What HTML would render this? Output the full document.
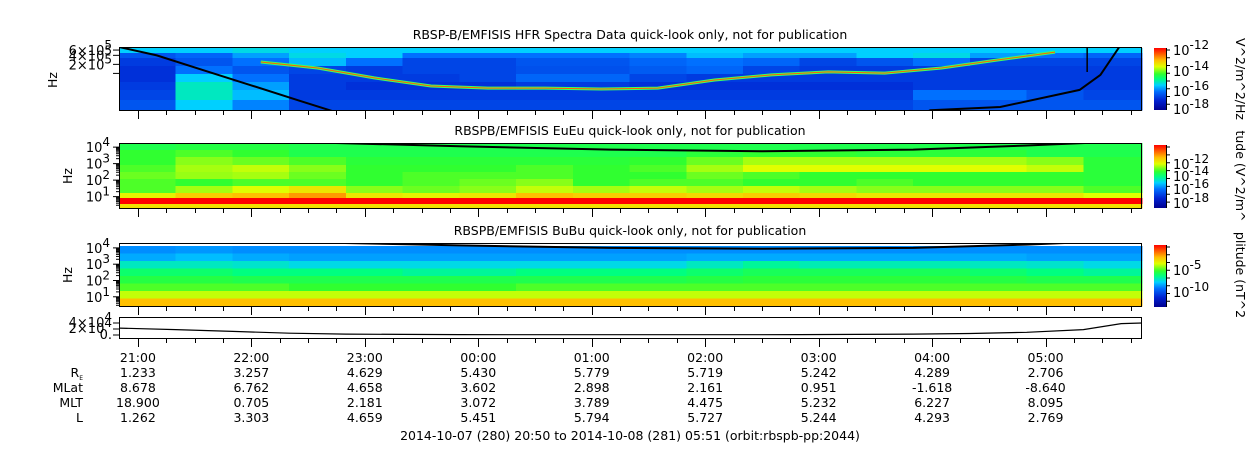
<!DOCTYPE html>
<html><head><meta charset="utf-8">
<style>
html,body{margin:0;padding:0;background:#fff;}
svg{display:block;font-family:"DejaVu Sans","Liberation Sans",sans-serif;}
</style></head>
<body>
<svg id="chart" width="1250" height="449" viewBox="0 0 1250 449" xmlns="http://www.w3.org/2000/svg">
<defs>
<linearGradient id="cbar" x1="0" y1="1" x2="0" y2="0">
<stop offset="0" stop-color="#000090"/><stop offset="0.15" stop-color="#0020d0"/>
<stop offset="0.3" stop-color="#0070ff"/><stop offset="0.4" stop-color="#00d0ff"/>
<stop offset="0.5" stop-color="#00ff80"/><stop offset="0.58" stop-color="#30ff30"/>
<stop offset="0.7" stop-color="#e0ff00"/><stop offset="0.8" stop-color="#ffc000"/>
<stop offset="0.9" stop-color="#ff6000"/><stop offset="1" stop-color="#ff0000"/>
</linearGradient>
<clipPath id="c1"><rect x="119" y="47" width="1023" height="63"/></clipPath>
<clipPath id="c2"><rect x="119" y="143" width="1023" height="65"/></clipPath>
<clipPath id="c3"><rect x="119" y="243" width="1023" height="63"/></clipPath>
<clipPath id="c4"><rect x="119" y="317" width="1023" height="21"/></clipPath>
</defs>
<g id="layer"></g>
<g font-size="12.5" fill="#000">
<text x="630" y="39" text-anchor="middle">RBSP-B/EMFISIS  HFR Spectra Data quick-look only, not for publication</text>
<text x="630" y="135" text-anchor="middle">RBSPB/EMFISIS  EuEu quick-look only, not for publication</text>
<text x="630" y="235" text-anchor="middle">RBSPB/EMFISIS  BuBu quick-look only, not for publication</text>
<text x="630" y="440" text-anchor="middle">2014-10-07 (280) 20:50 to 2014-10-08 (281) 05:51 (orbit:rbspb-pp:2044)</text>
<text transform="translate(57,80) rotate(-90)" text-anchor="middle">Hz</text>
<text transform="translate(72,176) rotate(-90)" text-anchor="middle">Hz</text>
<text transform="translate(72,275) rotate(-90)" text-anchor="middle">Hz</text>
<text transform="translate(1236,79) rotate(90)" text-anchor="middle">V^2/m^2/Hz</text>
<text transform="translate(1236,176) rotate(90)" text-anchor="middle">tude (V^2/m^</text>
<text transform="translate(1236,275) rotate(90)" text-anchor="middle">plitude (nT^2</text>
</g>
</svg>
<script>
// ---- data ----
const binMinutes = 30;
const hfrGrid = [
 [.4,.4,.42,.4,.4,.4,.4,.4,.4,.4,.4,.4,.4,.4,.4,.4,.4,.4],
 [.25,.28,.35,.42,.4,.3,.3,.3,.3,.32,.38,.35,.35,.4,.42,.35,.3,.28],
 [.2,.25,.3,.38,.3,.22,.22,.25,.25,.28,.3,.28,.22,.25,.3,.22,.22,.22],
 [.18,.3,.25,.22,.2,.22,.22,.24,.24,.26,.28,.22,.2,.2,.2,.2,.2,.2],
 [.18,.4,.3,.2,.2,.2,.22,.28,.28,.22,.2,.2,.2,.2,.2,.2,.2,.2],
 [.2,.45,.35,.2,.18,.18,.18,.2,.2,.18,.18,.18,.18,.18,.2,.2,.2,.2],
 [.22,.45,.38,.2,.2,.2,.2,.2,.2,.2,.2,.2,.2,.2,.3,.3,.25,.22],
 [.25,.4,.32,.22,.22,.22,.22,.22,.22,.22,.22,.22,.22,.22,.25,.25,.25,.25]
];
const uhLineLogHz = [null,null,5.38,5.18,4.85,4.58,4.51,4.51,4.48,4.51,4.78,4.95,5.05,5.01,5.18,5.45,5.71,null];
const hfrCurveMin = [0,20,45,70,95,115,420,429,466,508,519,529,545];
const hfrCurveLogHz = [5.88,5.6,5.1,4.6,4.1,3.7,3.5,3.77,3.88,4.45,4.95,5.88,6.5];
const euGrid = [
 [.55,.56,.56,.55,.55,.55,.55,.55,.55,.55,.55,.55,.55,.55,.55,.55,.55,.55],
 [.58,.6,.58,.55,.55,.55,.55,.55,.55,.55,.57,.58,.58,.57,.57,.57,.55,.55],
 [.58,.64,.62,.6,.57,.57,.57,.57,.57,.58,.62,.66,.66,.66,.66,.66,.64,.57],
 [.6,.66,.68,.64,.58,.58,.58,.6,.58,.6,.66,.7,.7,.7,.7,.7,.68,.57],
 [.62,.65,.66,.62,.58,.6,.6,.6,.58,.58,.62,.6,.58,.58,.58,.58,.58,.57],
 [.6,.58,.6,.6,.58,.6,.62,.64,.58,.6,.6,.58,.58,.6,.58,.58,.58,.57],
 [.6,.66,.7,.74,.64,.62,.64,.68,.66,.68,.66,.68,.66,.64,.64,.64,.64,.6],
 [.72,.78,.8,.84,.74,.72,.74,.8,.78,.78,.76,.78,.76,.74,.74,.74,.74,.7],
 [1,1,1,1,1,1,1,1,1,1,1,1,1,1,1,1,1,1],
 [.75,.75,.75,.75,.75,.75,.75,.75,.75,.75,.75,.75,.75,.75,.75,.75,.75,.75]
];
const euCurveMin = [100,180,260,340,420,480,520];
const euCurveLogHz = [4.3,4.05,3.85,3.75,3.85,4.1,4.3];
const buGrid = [
 [.33,.34,.33,.33,.33,.33,.33,.33,.33,.33,.33,.33,.33,.33,.33,.33,.33,.33],
 [.36,.38,.36,.35,.35,.35,.35,.35,.35,.35,.36,.36,.36,.36,.36,.36,.35,.35],
 [.45,.45,.44,.42,.42,.42,.42,.42,.42,.42,.45,.48,.46,.46,.46,.45,.44,.42],
 [.52,.52,.5,.5,.5,.48,.48,.5,.5,.5,.52,.54,.54,.54,.54,.52,.5,.48],
 [.56,.56,.55,.55,.55,.55,.55,.55,.55,.55,.56,.57,.57,.57,.57,.56,.55,.55],
 [.6,.6,.6,.58,.58,.58,.58,.6,.6,.6,.6,.6,.6,.6,.6,.6,.6,.6],
 [.68,.68,.68,.68,.68,.68,.68,.68,.68,.68,.68,.68,.68,.68,.68,.68,.68,.68],
 [.8,.8,.8,.8,.8,.8,.8,.8,.8,.8,.8,.8,.8,.8,.8,.8,.8,.8]
];
const buCurveMin = [100,180,260,340,420,480,520];
const buCurveLogHz = [4.35,4.15,4.0,3.95,4.0,4.2,4.4];
const orbitMin = [0,30,60,90,120,150,180,210,240,270,300,330,360,390,420,450,480,510,530,541];
const orbitVal = [2.3,1.8,1.2,0.6,0.3,0.2,0.15,0.1,0.1,0.1,0.1,0.1,0.15,0.2,0.3,0.5,0.9,1.8,3.8,4.0];
const hourLabels = ["21:00","22:00","23:00","00:00","01:00","02:00","03:00","04:00","05:00"];
const hourMin = [10,70,130,190,250,310,370,430,490];
const rowNames = ["R_E","MLat","MLT","L"];
const rowRE = ["1.233","3.257","4.629","5.430","5.779","5.719","5.242","4.289","2.706"];
const rowMLat = ["8.678","6.762","4.658","3.602","2.898","2.161","0.951","-1.618","-8.640"];
const rowMLT = ["18.900","0.705","2.181","3.072","3.789","4.475","5.232","6.227","8.095"];
const rowL = ["1.262","3.303","4.659","5.451","5.794","5.727","5.244","4.293","2.769"];

// ---- scales ----
const X0=119, X1=1142, TOT=541;
const xs = m => X0 + (m/TOT)*(X1-X0);
const p1y = v => 47 + (5.88 - v)*30;
const p2y = v => 143 + (4.25 - v)*16.5;
const p3y = v => 243 + (4.3 - v)*16.3;
const p4y = v => 335 - v*3;
const stops=[[0,[0,0,144]],[.15,[0,32,208]],[.3,[0,112,255]],[.4,[0,208,255]],[.5,[0,255,128]],[.58,[48,255,48]],[.7,[224,255,0]],[.8,[255,192,0]],[.9,[255,96,0]],[1,[255,0,0]]];
function cmap(v){for(let i=1;i<stops.length;i++){if(v<=stops[i][0]){const a=stops[i-1],b=stops[i],t=(v-a[0])/(b[0]-a[0]);return 'rgb('+a[1].map((c,k)=>Math.round(c+(b[1][k]-c)*t)).join(',')+')';}}return 'rgb(255,0,0)';}
const NS='http://www.w3.org/2000/svg';
const layer=document.getElementById('layer');
function mk(tag,attrs,parent){const e=document.createElementNS(NS,tag);for(const k in attrs)e.setAttribute(k,attrs[k]);(parent||layer).appendChild(e);return e;}

function grid(g,edges,name){
  const grp=mk('g',{'shape-rendering':'crispEdges'});
  
  
  g.forEach((row,r)=>row.forEach((v,c)=>{
    const x=xs(c*binMinutes), x2=xs(Math.min(TOT,(c+1)*binMinutes+(c==row.length-1?1:0)));
    const e=mk('rect',{x:x,y:edges[r],width:x2-x+0.6,height:edges[r+1]-edges[r]+0.6,fill:cmap(v)},grp);
    
    
  }));
}
function even(top,bot,n){const a=[];for(let i=0;i<=n;i++)a.push(top+(bot-top)*i/n);return a;}
function line(mins,vals,ys,clip,name,stroke,w){
  const pts=[];mins.forEach((m,i)=>{if(vals[i]!==null)pts.push(xs(m).toFixed(1)+','+ys(vals[i]).toFixed(1));});
  const e=mk('polyline',{points:pts.join(' '),fill:'none',stroke:stroke,'stroke-width':w,'clip-path':'url(#'+clip+')'});
  
  
}
grid(hfrGrid,[48,53,58,66,74,82,90,100,110],'hfr-spectrogram');
grid(euGrid,[143,150,157,165,172,179,186,193,198,204,208],'eueu-spectrogram');
mk('rect',{x:119,y:243,width:1023,height:3,fill:'#fff'});
grid(buGrid,even(246,306,8),'bubu-spectrogram');
// UH line
(function(){const m=[],v=[];uhLineLogHz.forEach((x,i)=>{m.push((i+.5)*binMinutes);v.push(x);});
 const segs=[];let cur=[];m.forEach((mm,i)=>{if(v[i]===null){if(cur.length)segs.push(cur);cur=[];}else cur.push(i);});if(cur.length)segs.push(cur);
 segs.forEach(s=>{line(s.map(i=>m[i]),s.map(i=>v[i]),p1y,'c1','upper-hybrid-line-glow','#40ff60',3);line(s.map(i=>m[i]),s.map(i=>v[i]),p1y,'c1','upper-hybrid-line','#ff6000',1);});
})();
line(hfrCurveMin,hfrCurveLogHz,p1y,'c1','hfr-fce-curve','#000',2);
(function(){const e=mk('line',{x1:xs(512),y1:47,x2:xs(512),y2:72,stroke:'#000','stroke-width':1.5});})();
line(euCurveMin,euCurveLogHz,p2y,'c2','eueu-fce-curve','#000',2);
line(buCurveMin,buCurveLogHz,p3y,'c3','bubu-fce-curve','#000',2);
line(orbitMin,orbitVal,p4y,'c4','orbit-line','#000',1.2);

// frames & ticks
[[47,110,'hfr-panel-frame'],[143,208,'eueu-panel-frame'],[243,306,'bubu-panel-frame'],[317,338,'orbit-panel-frame']].forEach(([t,b,n])=>{
  const f=mk('rect',{x:119.5,y:t+.5,width:1022,height:b-t,fill:'none',stroke:'#000','stroke-width':1});
  
  
  for(let m=10;m<TOT;m+=15){const maj=((m-10)%60===0);const x=Math.round(xs(m))+.5;
    const e=mk('line',{x1:x,y1:b+1,x2:x,y2:b+(maj?9:5),stroke:'#000','stroke-width':1});
    }
});
// y-axis ticks & labels
function ylab(x,y,base,sup,name){const t=mk('text',{x:x,y:y,'font-size':13,'text-anchor':'end'});
  t.appendChild(document.createTextNode(base));const s=mk('tspan',{dy:-6,'font-size':12},t);s.textContent=sup;}
function logticks(ys,lo,hi,top,bot,prefix){for(let d=Math.floor(lo);d<=Math.ceil(hi);d++){for(let k=1;k<10;k++){const v=d+Math.log10(k);const y=ys(v);if(y<top||y>bot)continue;
  const e=mk('line',{x1:119,y1:y,x2:k==1?113:116,y2:y,stroke:'#000','stroke-width':1});}}}
logticks(p2y,0.3,4.25,143,208,'eueu-y');logticks(p3y,0.44,4.3,243,306,'bubu-y');
[4,3,2,1].forEach(d=>{ylab(110,p2y(d)+5,'10',String(d),'eueu-y-label');ylab(110,p3y(d)+5,'10',String(d),'bubu-y-label');});
[[6,'6×10'],[4,'4×10'],[2,'2×10']].forEach(([k,s])=>{const y=p1y(5+Math.log10(k));const e=mk('line',{x1:119,y1:y,x2:113,y2:y,stroke:'#000'});ylab(112,y+5,s,'5','hfr-y-label');});
(function(){const y=p1y(5);const e=mk('line',{x1:119,y1:y,x2:113,y2:y,stroke:'#000'});})();
[[4,'4×10','4'],[2,'2×10','4'],[0,'0.','']].forEach(([v,s,sup])=>{const y=p4y(v);const e=mk('line',{x1:119,y1:y,x2:113,y2:y,stroke:'#000'});ylab(112,y+4,s,sup,'orbit-y-label');});
// colorbars
function cbar(top,bot,labels,name){const r=mk('rect',{x:1154,y:top,width:12,height:bot-top,fill:'url(#cbar)'});
  for(let y=top+2;y<bot;y+=(bot-top)/8){const e=mk('line',{x1:1166,y1:y,x2:1170,y2:y,stroke:'#000'});}
  mk('line',{x1:1166.5,y1:top,x2:1166.5,y2:bot,stroke:'#000'});
  labels.forEach(([y,sup])=>{const t=mk('text',{x:1173,y:y+5,'font-size':13});t.appendChild(document.createTextNode('10'));const s=mk('tspan',{dy:-6,'font-size':12},t);s.textContent=sup;});}
cbar(48,110,[[50,'-12'],[71,'-14'],[91,'-16'],[109,'-18']],'hfr-colorbar');
cbar(145,208,[[164,'-12'],[176,'-14'],[189,'-16'],[203,'-18']],'eueu-colorbar');
cbar(245,307,[[270,'-5'],[292,'-10']],'bubu-colorbar');
// ephemeris rows
const rows=[hourLabels,rowRE,rowMLat,rowMLT,rowL];const rowY=[362,377,392,407,422];
rows.forEach((arr,r)=>arr.forEach((s,i)=>{const t=mk('text',{x:xs(hourMin[i]),y:rowY[r],'font-size':12.5,'text-anchor':'middle'});t.textContent=s;}));
rowNames.forEach((n,r)=>{const t=mk('text',{x:83,y:rowY[r+1],'font-size':12.5,'text-anchor':'end'});
 if(n==='R_E'){t.appendChild(document.createTextNode('R'));const s=mk('tspan',{dy:3,'font-size':6},t);s.textContent='E';}else t.textContent=n;});
</script>
</body></html>
